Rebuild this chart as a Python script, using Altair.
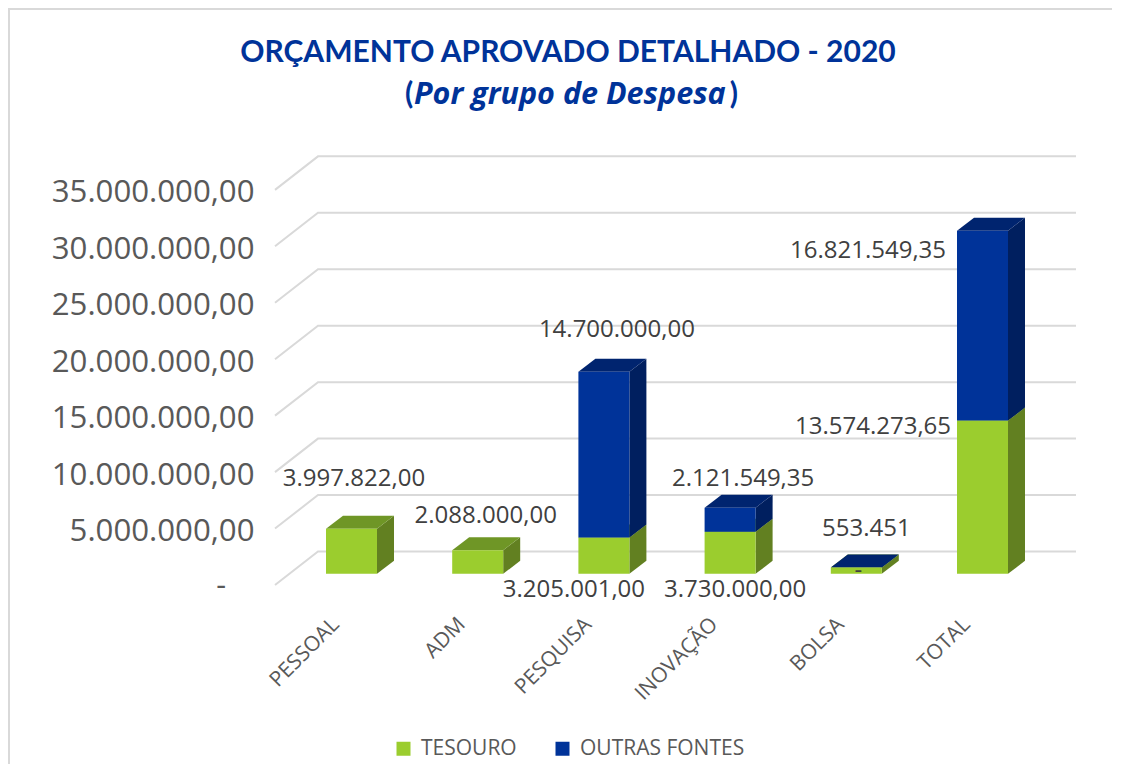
import altair as alt
import pandas as pd

categories = ["PESSOAL", "ADM", "PESQUISA", "INOVAÇÃO", "BOLSA", "TOTAL"]
tesouro = [3997822.00, 2088000.00, 3205001.00, 3730000.00, 553451.00, 13574273.65]
outras = [None, None, 14700000.00, 2121549.35, 0.00, 16821549.35]
y_ticks = [0, 5e6, 10e6, 15e6, 20e6, 25e6, 30e6, 35e6]
y_tick_labels = ["", "5.000.000,00", "10.000.000,00", "15.000.000,00",
                 "20.000.000,00", "25.000.000,00", "30.000.000,00", "35.000.000,00"]
zero_label = "-"
# label text, category index, series the anchor belongs to, dx, dy (pixels)
value_labels = [
    ("3.997.822,00", 0, "t", 2.5, -51),
    ("2.088.000,00", 1, "t", 8, -35),
    ("3.205.001,00", 2, "t", -30, 51),
    ("14.700.000,00", 2, "o", 13, -43),
    ("3.730.000,00", 3, "t", 5, 57),
    ("2.121.549,35", 3, "o", 13, -30),
    ("553.451", 4, "t", 10, -40),
    ("-", 4, "o", 2, 2),
    ("13.574.273,65", 5, "t", -109.5, 5),
    ("16.821.549,35", 5, "o", -114.5, 19),
]

W, H = 801, 428
PX_PER_VAL = 11.29e-6
UNIT = 126.2
X0 = 76.5
x_dom = [-X0 / UNIT, (W - X0) / UNIT]
y_dom = [0, H / PX_PER_VAL]
BACK_DX, BACK_DY = 43 / UNIT, 33.5 / PX_PER_VAL
BAR_W = 51 / UNIT
BAR_DX, BAR_DY = 17 / UNIT, 13 / PX_PER_VAL
BASE = 11.2 / PX_PER_VAL

GREEN, GREEN_S, GREEN_T = "#9BCD2E", "#628021", "#6F9626"
NAVY, NAVY_S, NAVY_T = "#003399", "#001F5F", "#00246F"
GREY = "#595959"
FONT = "Open Sans"

tick_expr = "[" + ",".join(f"'{c}'" for c in categories) + "][datum.value]"
ylab_expr = "[" + ",".join(f"'{c}'" for c in y_tick_labels) + "][datum.value/5000000]"

x_axis = alt.Axis(values=list(range(6)), labelExpr=tick_expr, labelAngle=-45, labelAlign="right",
                  labelBaseline="middle", labelFontSize=21, labelFont=FONT, labelColor=GREY,
                  labelPadding=36, labelOffset=-16, ticks=False, domain=False, grid=False,
                  labelOverlap=False, labelBound=False, labelFlush=False, labelLimit=400, title=None)
y_axis = alt.Axis(values=y_ticks, labelExpr=ylab_expr, labelFontSize=31.2, labelFont=FONT,
                  labelColor=GREY, labelPadding=21, labelOffset=3, ticks=False, domain=False, grid=False,
                  labelOverlap=False, labelLimit=400, title=None)
xs = alt.Scale(domain=x_dom, nice=False, zero=False)
ys = alt.Scale(domain=y_dom, nice=False, zero=False)
X = lambda f="x": alt.X(f + ":Q", scale=xs, axis=x_axis)
Y = lambda f="y": alt.Y(f + ":Q", scale=ys, axis=y_axis, stack=None)

# ---- derived geometry
grid_rows, front, faces = [], [], []
for v in y_ticks:
    for px, py in [(x_dom[0], v), (x_dom[0] + BACK_DX, v + BACK_DY), (x_dom[1], v + BACK_DY)]:
        grid_rows.append({"x": px, "y": py, "v": v})

tops = {}
fid = 0
for i, cat in enumerate(categories):
    lo = BASE
    for name, vals, cf, cs, ct, key in [("TESOURO", tesouro, GREEN, GREEN_S, GREEN_T, "t"),
                                        ("OUTRAS FONTES", outras, NAVY, NAVY_S, NAVY_T, "o")]:
        val = vals[i]
        if val is None:
            continue
        hi = lo + val
        tops[(i, key)] = hi
        x0, x1 = i - BAR_W / 2, i + BAR_W / 2
        front.append({"x": x0, "x2": x1, "y": lo, "y2": hi, "serie": name})
        fid += 1
        for px, a, b in [(x1, lo, hi), (x1 + BAR_DX, lo + BAR_DY, hi + BAR_DY)]:
            faces.append({"x": px, "y": a, "y2": b, "face": fid, "shade": cs})
        fid += 1
        for px, a, b in [(x0, hi, hi), (x0 + BAR_DX, hi, hi + BAR_DY),
                         (x1, hi, hi + BAR_DY), (x1 + BAR_DX, hi + BAR_DY, hi + BAR_DY)]:
            faces.append({"x": px, "y": a, "y2": b, "face": fid, "shade": ct})
        lo = hi

label_rows = []
for text, i, key, dx, dy in value_labels:
    label_rows.append({"x": i + dx / UNIT, "y": tops[(i, key)] - dy / PX_PER_VAL, "t": text})

grid = alt.Chart(pd.DataFrame(grid_rows)).mark_line(color="#D9D9D9", strokeWidth=2).encode(
    x=X(), y=Y(), detail="v:N",
)

faces_df = pd.DataFrame(faces)
side_top = alt.layer(*[
    alt.Chart(g).mark_area(line=False, opacity=1).encode(
        x=X(), y=Y(), y2="y2:Q",
        color=alt.Color("shade:N", scale=None),
    )
    for _, g in faces_df.groupby("face", sort=True)
])

fronts = alt.Chart(pd.DataFrame(front)).mark_bar().encode(
    x=X(), x2="x2:Q",
    y=Y(), y2="y2:Q",
    color=alt.Color("serie:N", scale=alt.Scale(domain=["TESOURO", "OUTRAS FONTES"], range=[GREEN, NAVY]),
                    legend=alt.Legend(title=None, orient="none", legendX=118, legendY=581,
                                      direction="horizontal", symbolType="square", symbolSize=196,
                                      labelFont=FONT, labelFontSize=21, labelColor=GREY, labelLimit=400,
                                      columnPadding=35, symbolStrokeWidth=0, labelOffset=7)),
)

labels = alt.Chart(pd.DataFrame(label_rows)).mark_text(font=FONT, fontSize=24, color="#404040", dy=1).encode(
    x=X(), y=Y(), text="t:N")

zero = alt.Chart(pd.DataFrame({"y": [y_ticks[0]], "t": [zero_label]})).mark_text(
    font=FONT, fontSize=30.5, color=GREY, align="right", dy=1
).encode(x=alt.value(226 - 275), y=Y(), text="t:N")

BLUE_T = "#003399"
def title_text(txt, px, py, align, style="normal", font="Lato", size=30):
    return alt.Chart(pd.DataFrame({"t": [txt]})).mark_text(
        font=font, fontSize=size, fontWeight="bold", fontStyle=style, color=BLUE_T, align=align
    ).encode(x=alt.value(px - 275), y=alt.value(py - 156), text="t:N")

titles = [
    title_text("ORÇAMENTO APROVADO DETALHADO -  2020", 568, 52, "center"),
    title_text("(", 405, 94, "left"),
    title_text("Por grupo de Despesa", 414, 94, "left", "italic", "Open Sans", 30.5),
    title_text(")", 738, 94, "right"),
]

border_top = alt.Chart(pd.DataFrame({"a": [0]})).mark_rule(color="#D9D9D9", strokeWidth=2).encode(
    x=alt.value(8 - 275), x2=alt.value(1122 - 275), y=alt.value(8 - 156))
border_left = alt.Chart(pd.DataFrame({"a": [0]})).mark_rule(color="#D9D9D9", strokeWidth=2).encode(
    x=alt.value(9 - 275), y=alt.value(8 - 156), y2=alt.value(772 - 156))

chart = alt.layer(border_top, border_left, grid, side_top, fronts, labels, zero, *titles).properties(
    width=W, height=H,
    autosize=alt.AutoSizeParams(type="none"),
    padding={"left": 267, "top": 149, "right": 36, "bottom": 179},
    background="white",
).configure_view(stroke=None)

chart.save("out.html", embed_options={"renderer": "svg", "actions": False})
